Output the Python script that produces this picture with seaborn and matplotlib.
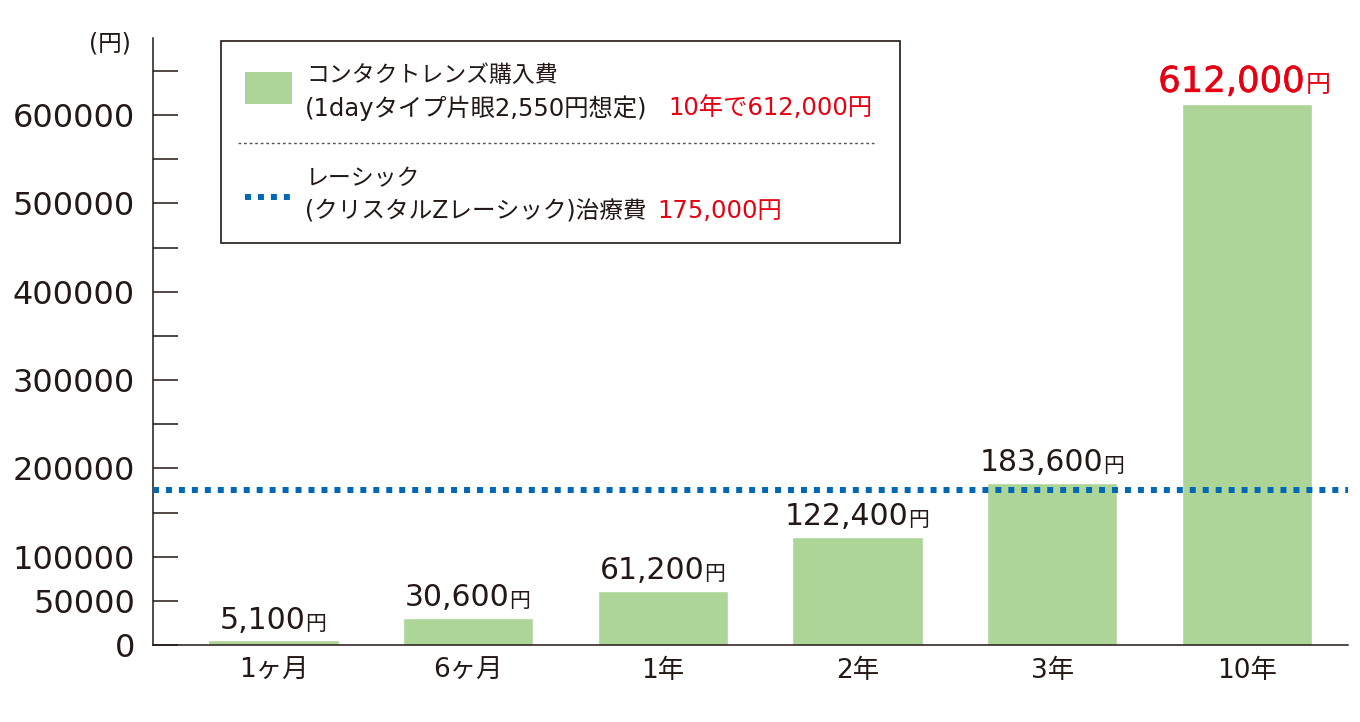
import numpy as np
import pandas as pd
import matplotlib
matplotlib.use("Agg")
import matplotlib.pyplot as plt
from matplotlib.patches import Rectangle
from matplotlib.lines import Line2D
import matplotlib.patheffects as pe
import seaborn as sns

# ---- data ----
categories = ["1ヶ月", "6ヶ月", "1年", "2年", "3年", "10年"]
costs = [5100, 30600, 61200, 122400, 183600, 612000]
lasik_cost = 175000
ytick_values = list(range(0, 650001, 50000))
ytick_shown = [0, 50000, 100000, 200000, 300000, 400000, 500000, 600000]
legend_line1 = "コンタクトレンズ購入費"
legend_line2 = "(1dayタイプ片眼2,550円想定)"
legend_line2_red = "10年で612,000円"
legend_line3 = "レーシック"
legend_line4 = "(クリスタルZレーシック)治療費"
legend_line4_red = "175,000円"
unit_label = "(円)"

GREEN = "#acd597"
BLUE = "#0068b7"
RED = "#e60012"
INK = "#231815"

sns.set_theme(style="white")
plt.rcParams["font.family"] = ["DejaVu Sans", "Noto Sans CJK JP"]

W, H = 1360, 722
fig = plt.figure(figsize=(W / 100, H / 100), dpi=100)


def fx(x):
    return x / W


def fy(y):
    return 1 - y / H


ax_left, ax_right, ax_top, ax_bottom = 153, 1348, 38, 645
ax = fig.add_axes([fx(ax_left), fy(ax_bottom), (ax_right - ax_left) / W,
                   (ax_bottom - ax_top) / H])

df = pd.DataFrame({"period": categories, "cost": costs})
sns.barplot(data=df, x="period", y="cost", color=GREEN, saturation=1,
            width=0.67, ax=ax, zorder=2)

ymax = (ax_bottom - ax_top) / 530 * 600000
ax.set_ylim(0, ymax)
ax.set_xlim(-0.62, 5.52)

ax.axhline(lasik_cost, color=BLUE, lw=4.3, linestyle=(0, (1, 1.17)),
           dash_capstyle="butt", zorder=3)

ax.set_yticks(ytick_values)
ax.set_yticklabels([str(v) if v in ytick_shown else "" for v in ytick_values])
ax.tick_params(axis="y", left=True, direction="in", length=18, width=1.1,
               color=INK, pad=13, labelsize=23, labelcolor=INK)
ax.tick_params(axis="x", bottom=False, length=0, pad=9, labelsize=19,
               labelcolor=INK)
ax.set_xlabel("")
ax.set_ylabel("")
for s in ["top", "right"]:
    ax.spines[s].set_visible(False)
for s in ["left", "bottom"]:
    ax.spines[s].set_color(INK)
    ax.spines[s].set_linewidth(1.1)

# bar value labels
for i, v in enumerate(costs):
    big = (i == len(costs) - 1)
    col = RED if big else INK
    fs_num = 25.5 if big else 21.5
    fs_yen = 18 if big else 15
    shift = -11 if big else -8
    effects = [pe.withStroke(linewidth=0.4, foreground=RED)] if big else None
    t = ax.annotate(f"{v:,}", xy=(i, v), xytext=(shift, 4),
                    textcoords="offset points", ha="center", va="bottom",
                    fontsize=fs_num, color=col, zorder=4,
                    path_effects=effects)
    ax.annotate("円", xy=(1, 0), xycoords=t, xytext=(1 if big else 0, 1),
                textcoords="offset points", ha="left", va="bottom",
                fontsize=fs_yen, color=col, zorder=4)

# unit label
fig.text(fx(110), fy(43), unit_label, ha="center", va="center",
         fontsize=17, color=INK)

# custom legend box
fig.add_artist(Rectangle((fx(221), fy(243)), (900 - 221) / W, (243 - 41) / H,
                         transform=fig.transFigure, facecolor="white",
                         edgecolor=INK, lw=1.2, zorder=5))
fig.add_artist(Rectangle((fx(245), fy(104)), (292 - 245) / W, (104 - 72) / H,
                         transform=fig.transFigure, facecolor=GREEN,
                         edgecolor="none", zorder=6))
fig.add_artist(Line2D([fx(245), fx(294)], [fy(197), fy(197)],
                      transform=fig.transFigure, color=BLUE, lw=4.3,
                      linestyle=(0, (1, 1.17)), dash_capstyle="butt", zorder=6))
fig.add_artist(Line2D([fx(238), fx(877)], [fy(143), fy(143)],
                      transform=fig.transFigure, color="#555555", lw=1.0,
                      linestyle=(0, (2, 2)), zorder=6))

fig.text(fx(306), fy(76), legend_line1, ha="left", va="center",
         fontsize=16.5, color=INK, zorder=7)
fig.text(fx(305), fy(108), legend_line2, ha="left", va="center",
         fontsize=17.5, color=INK, zorder=7)
fig.text(fx(668), fy(108), legend_line2_red, ha="left", va="center",
         fontsize=17.5, color=RED, zorder=7)
fig.text(fx(306), fy(179), legend_line3, ha="left", va="center",
         fontsize=16.5, color=INK, zorder=7)
fig.text(fx(305), fy(211), legend_line4, ha="left", va="center",
         fontsize=17, color=INK, zorder=7)
fig.text(fx(657), fy(211), legend_line4_red, ha="left", va="center",
         fontsize=17.5, color=RED, zorder=7)

fig.savefig("out.png", dpi=100)
